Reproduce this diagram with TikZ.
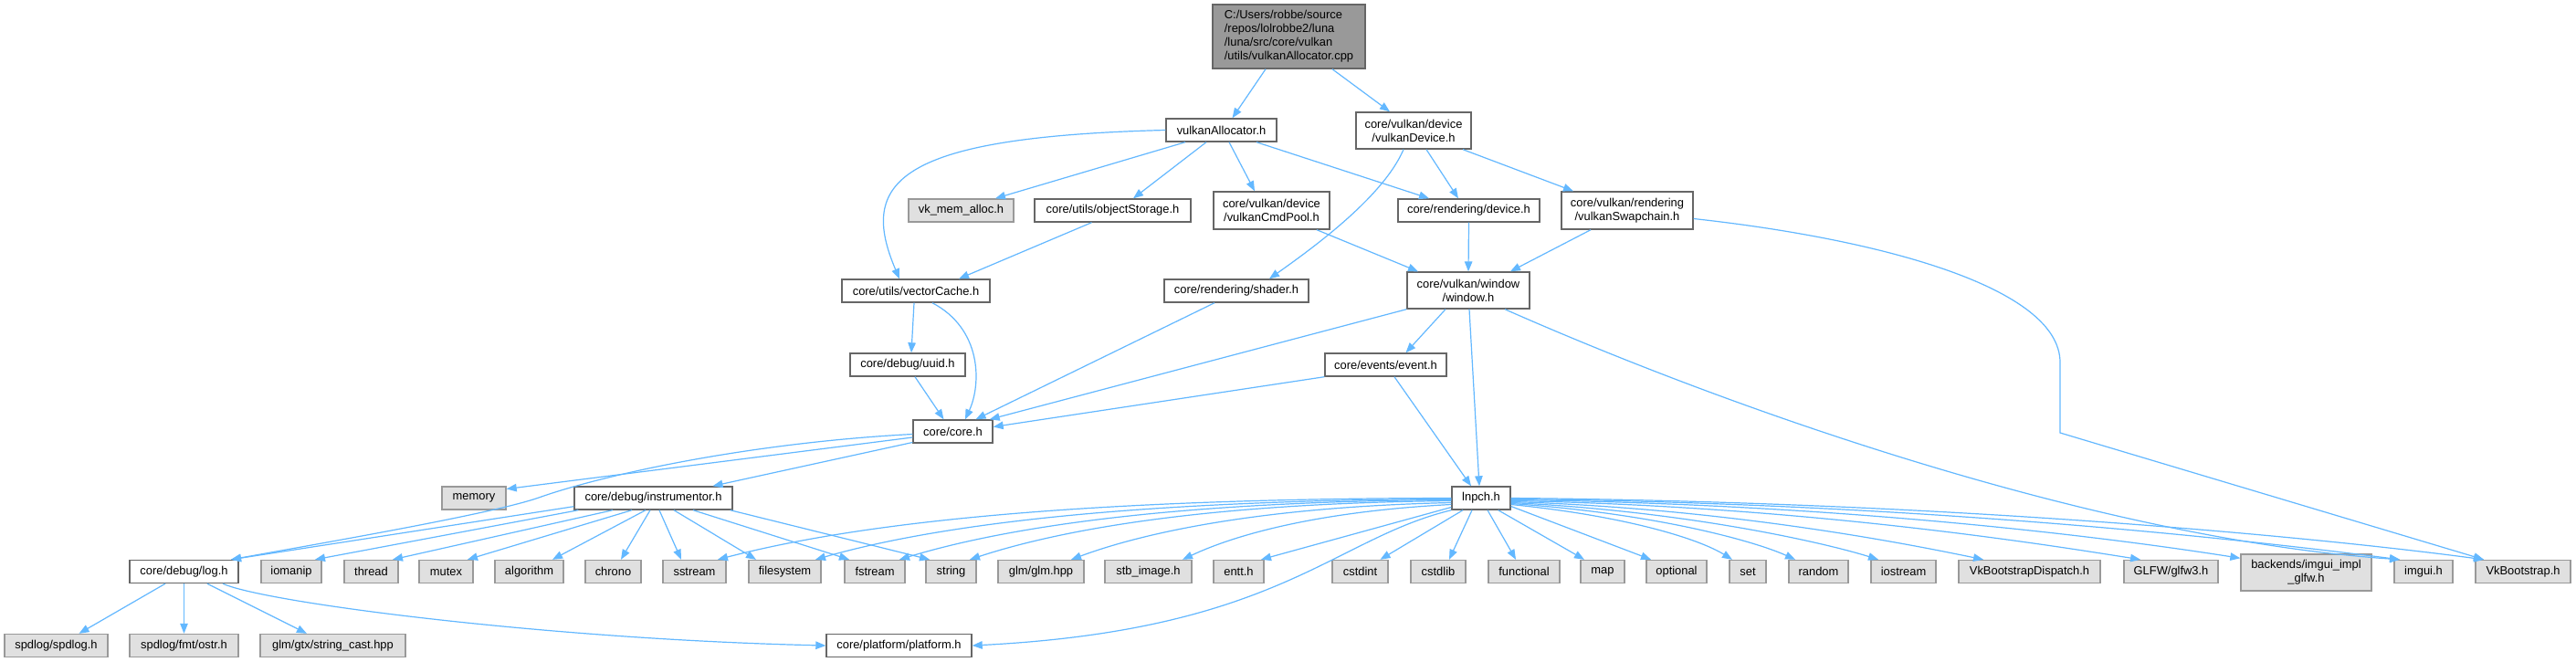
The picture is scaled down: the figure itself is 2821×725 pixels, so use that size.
\documentclass[tikz,border=0pt]{standalone}
\usepackage{fontspec}
\setmainfont{Liberation Sans}
\usepackage{tikz}
\usetikzlibrary{arrows.meta}
\definecolor{dg-edge}{HTML}{63B8FF}
\definecolor{dg-line}{HTML}{666666}
\definecolor{dg-sysline}{HTML}{999999}
\definecolor{dg-sysfill}{HTML}{E0E0E0}
\definecolor{dg-root}{HTML}{999999}
\tikzset{
  file/.style={draw=dg-line, fill=white, line width=1.4pt, minimum height=25, inner sep=0pt,
    font=\fontsize{12.9}{15}\selectfont, align=center},
  sys/.style={file, draw=dg-sysline, fill=dg-sysfill},
  root/.style={file, fill=dg-root, align=left},
  dep/.style={draw=dg-edge, line width=1.2pt, -{Triangle[length=11pt,width=8.5pt]}}
}

\begin{document}
\begin{tikzpicture}[x=1pt, y=1pt]

    \useasboundingbox[fill=white] (0,0) rectangle (2821,-725);

    % Source file and its direct includes
    \node[root, minimum width=167, minimum height=70] (main) at (1411.5,-40) {C:/Users/robbe/source\\/repos/lolrobbe2/luna\\/luna/src/core/vulkan\\/utils/vulkanAllocator.cpp};
    \node[file, minimum width=121] (valloch) at (1337.5,-142.5) {vulkanAllocator.h};
    \node[file, minimum width=126, minimum height=40] (vdevice) at (1548,-143) {core/vulkan/device\\/vulkanDevice.h};

    % Second level
    \node[sys, minimum width=115] (vkmem) at (1052.5,-230.5) {vk\_mem\_alloc.h};
    \node[file, minimum width=171] (objstore) at (1218.5,-230.5) {core/utils/objectStorage.h};
    \node[file, minimum width=127, minimum height=41] (cmdpool) at (1392.5,-230.5) {core/vulkan/device\\/vulkanCmdPool.h};
    \node[file, minimum width=155] (rdevice) at (1608.5,-230.5) {core/rendering/device.h};
    \node[file, minimum width=144, minimum height=41] (swapchain) at (1782,-230.5) {core/vulkan/rendering\\/vulkanSwapchain.h};

    \node[file, minimum width=162] (vcache) at (1003,-318.5) {core/utils/vectorCache.h};
    \node[file, minimum width=158] (shader) at (1354,-318.5) {core/rendering/shader.h};
    \node[file, minimum width=134, minimum height=40] (window) at (1608,-318) {core/vulkan/window\\/window.h};

    \node[file, minimum width=126] (uuid) at (994,-399.5) {core/debug/uuid.h};
    \node[file, minimum width=133] (event) at (1517.5,-399.5) {core/events/event.h};

    \node[file, minimum width=87] (core) at (1043.5,-472.5) {core/core.h};

    \node[sys, minimum width=70] (memory) at (519,-545.5) {memory};
    \node[file, minimum width=173] (instr) at (715.5,-545.5) {core/debug/instrumentor.h};
    \node[file, minimum width=64] (lnpch) at (1622,-545.5) {lnpch.h};

    % Row of headers
    \node[file, minimum width=119] (logh) at (201.5,-626) {core/debug/log.h};
    \node[sys, minimum width=66] (iomanip) at (319,-626) {iomanip};
    \node[sys, minimum width=59] (thread) at (406.5,-626) {thread};
    \node[sys, minimum width=59] (mutex) at (488.5,-626) {mutex};
    \node[sys, minimum width=75] (algorithm) at (579.5,-626) {algorithm};
    \node[sys, minimum width=61] (chrono) at (671.5,-626) {chrono};
    \node[sys, minimum width=69] (sstream) at (760.5,-626) {sstream};
    \node[sys, minimum width=79] (filesystem) at (859.5,-626) {filesystem};
    \node[sys, minimum width=66] (fstream) at (958,-626) {fstream};
    \node[sys, minimum width=55] (string) at (1041.5,-626) {string};
    \node[sys, minimum width=94] (glm) at (1140,-626) {glm/glm.hpp};
    \node[sys, minimum width=95] (stb) at (1257.5,-626) {stb\_image.h};
    \node[sys, minimum width=55] (entt) at (1356.5,-626) {entt.h};
    \node[sys, minimum width=61] (cstdint) at (1489.5,-626) {cstdint};
    \node[sys, minimum width=60] (cstdlib) at (1575,-626) {cstdlib};
    \node[sys, minimum width=78] (functional) at (1669,-626) {functional};
    \node[sys, minimum width=48] (map) at (1755,-626) {map};
    \node[sys, minimum width=66] (optional) at (1836,-626) {optional};
    \node[sys, minimum width=40] (set) at (1914,-626) {set};
    \node[sys, minimum width=65] (random) at (1991.5,-626) {random};
    \node[sys, minimum width=71] (iostream) at (2084.5,-626) {iostream};
    \node[sys, minimum width=155] (vkbd) at (2222.5,-626) {VkBootstrapDispatch.h};
    \node[sys, minimum width=103] (glfw) at (2377.5,-626) {GLFW/glfw3.h};
    \node[sys, minimum width=143, minimum height=40] (imguiimpl) at (2525.5,-627) {backends/imgui\_impl\\\_glfw.h};
    \node[sys, minimum width=64] (imgui) at (2654,-626) {imgui.h};
    \node[sys, minimum width=104] (vkboot) at (2763,-626) {VkBootstrap.h};

    % Bottom row
    \node[sys, minimum width=113] (spdlog) at (61.5,-707) {spdlog/spdlog.h};
    \node[sys, minimum width=119] (ostr) at (201.5,-707) {spdlog/fmt/ostr.h};
    \node[sys, minimum width=159] (strcast) at (364.5,-707) {glm/gtx/string\_cast.hpp};
    \node[file, minimum width=159] (platform) at (984.5,-707) {core/platform/platform.h};

    % Bend points of the routed edges
    \coordinate (swapbend) at (2256,-397);
    \coordinate (swapdrop) at (2256,-474);
    \coordinate (corebend) at (590,-545);

    % Edges from the upper part
    \draw[dep] ([xshift=-25.5]main.south) -- ([xshift=12]valloch.north);
    \draw[dep] ([xshift=47.5]main.south) -- ([xshift=-26]vdevice.north);

    \draw[dep] (valloch.west) .. controls (980,-150) and (940,-200) .. ([xshift=-18]vcache.north);
    \draw[dep] ([xshift=-39.5]valloch.south) -- ([xshift=37.5]vkmem.north);
    \draw[dep] ([xshift=-16.5]valloch.south) -- ([xshift=22.5]objstore.north);
    \draw[dep] ([xshift=8.5]valloch.south) -- ([xshift=-18.5]cmdpool.north);
    \draw[dep] ([xshift=38.5]valloch.south) -- ([xshift=-43.5]rdevice.north);

    \draw[dep] ([xshift=-11]vdevice.south) .. controls (1515,-215) and (1440,-270) .. ([xshift=36]shader.north);
    \draw[dep] ([xshift=14]vdevice.south) -- ([xshift=-11.5]rdevice.north);
    \draw[dep] ([xshift=54]vdevice.south) -- ([xshift=-59]swapchain.north);

    \draw[dep] ([xshift=-23]objstore.south) -- ([xshift=47]vcache.north);
    \draw[dep] ([xshift=49.5]cmdpool.south) -- ([xshift=-55]window.north);
    \draw[dep] (rdevice.south) -- (window.north);
    \draw[dep] ([xshift=-40]swapchain.south) -- ([xshift=46]window.north);
    \draw[dep] ([yshift=-9]swapchain.east) .. controls (2060,-262) and (2256,-315) .. (swapbend) -- (swapdrop) -- ([xshift=-43]vkboot.north);

    \draw[dep] ([xshift=-2]vcache.south) -- ([xshift=4]uuid.north);
    \draw[dep] ([xshift=18]vcache.south) .. controls (1075,-360) and (1075,-420) .. ([xshift=13.5]core.north);
    \draw[dep] ([xshift=-24]shader.south) -- ([xshift=25]core.north);
    \draw[dep] (window.south west) -- ([xshift=-4]core.north east);
    \draw[dep] ([xshift=-25]window.south) -- ([xshift=22]event.north);
    \draw[dep] ([xshift=1]window.south) -- ([xshift=-2]lnpch.north);
    \draw[dep] ([xshift=40]window.south) .. controls (1900,-450) and (2300,-590) .. ([xshift=-26]imgui.north);
    \draw[dep] ([xshift=8]uuid.south) -- ([xshift=-10]core.north);
    \draw[dep] (event.south west) -- ([yshift=5]core.east);
    \draw[dep] ([xshift=9.5]event.south) -- ([xshift=-11]lnpch.north);

    % core/core.h
    \draw[dep] ([yshift=-3]core.west) .. controls (820,-485) and (660,-520) .. (corebend) .. controls (541,-562) and (380,-590) .. ([xshift=51.5]logh.north);
    \draw[dep] ([yshift=-6.5]core.west) -- ([yshift=10]memory.east);
    \draw[dep] ([yshift=-12]core.west) -- ([xshift=65]instr.north);

    % core/debug/instrumentor.h
    \draw[dep] ([yshift=4]instr.south west) -- ([xshift=51.5]logh.north);
    \draw[dep] ([xshift=5]instr.south west) -- ([xshift=26]iomanip.north);
    \draw[dep] ([xshift=-44.5]instr.south) -- ([xshift=23.5]thread.north);
    \draw[dep] ([xshift=-23.5]instr.south) -- ([xshift=23.5]mutex.north);
    \draw[dep] ([xshift=-8.5]instr.south) -- ([xshift=25.5]algorithm.north);
    \draw[dep] ([xshift=-3.5]instr.south) -- ([xshift=8.5]chrono.north);
    \draw[dep] ([xshift=6.5]instr.south) -- ([xshift=-14.5]sstream.north);
    \draw[dep] ([xshift=22.5]instr.south) -- ([xshift=-31.5]filesystem.north);
    \draw[dep] ([xshift=43.5]instr.south) -- ([xshift=-28]fstream.north);
    \draw[dep] ([xshift=-3]instr.south east) -- ([xshift=-23.5]string.north);

    % lnpch.h, to the left
    \draw[dep] (lnpch.west) .. controls (1200,-546) and (950,-570) .. ([xshift=25.5]sstream.north);
    \draw[dep] ([yshift=-1]lnpch.west) .. controls (1248,-548) and (1032,-573) .. ([xshift=33.5]filesystem.north);
    \draw[dep] ([yshift=-2]lnpch.west) .. controls (1294,-549) and (1106,-576) .. ([xshift=27]fstream.north);
    \draw[dep] ([yshift=-3]lnpch.west) .. controls (1331,-551) and (1168,-578) .. ([xshift=20.5]string.north);
    \draw[dep] ([yshift=-5]lnpch.west) .. controls (1386,-555) and (1256,-582) .. ([xshift=33]glm.north);
    \draw[dep] ([yshift=-7]lnpch.west) .. controls (1445,-560) and (1354,-585) .. ([xshift=37.5]stb.north);
    \draw[dep] ([yshift=-10]lnpch.west) -- ([xshift=24.5]entt.north);
    \draw[dep] (lnpch.south west) .. controls (1460,-590) and (1400,-690) .. (platform.east);

    % lnpch.h, downwards and to the right
    \draw[dep] ([xshift=-20]lnpch.south) -- ([xshift=22]cstdint.north);
    \draw[dep] ([xshift=-10]lnpch.south) -- ([xshift=12]cstdlib.north);
    \draw[dep] ([xshift=7]lnpch.south) -- ([xshift=-9]functional.north);
    \draw[dep] ([xshift=-14]lnpch.south east) -- ([xshift=-20]map.north);
    \draw[dep] ([yshift=-9]lnpch.east) -- ([xshift=-28]optional.north);
    \draw[dep] ([yshift=-7]lnpch.east) .. controls (1780,-565) and (1860,-590) .. ([xshift=-17]set.north);
    \draw[dep] ([yshift=-6]lnpch.east) .. controls (1810,-562) and (1920,-592) .. ([xshift=-25.5]random.north);
    \draw[dep] ([yshift=-5]lnpch.east) .. controls (1850,-560) and (2000,-595) .. ([xshift=-27.5]iostream.north);
    \draw[dep] ([yshift=-4]lnpch.east) .. controls (1900,-557) and (2100,-598) .. ([xshift=-50.5]vkbd.north);
    \draw[dep] ([yshift=-3]lnpch.east) .. controls (1980,-554) and (2250,-598) .. ([xshift=-33.5]glfw.north);
    \draw[dep] ([yshift=-2]lnpch.east) .. controls (2050,-552) and (2350,-595) .. ([yshift=-5]imguiimpl.north west);
    \draw[dep] ([yshift=-1]lnpch.east) .. controls (2100,-551) and (2450,-590) .. ([xshift=-26]imgui.north);
    \draw[dep] (lnpch.east) .. controls (2150,-550) and (2550,-590) .. ([xshift=-43]vkboot.north);

    % core/debug/log.h
    \draw[dep] ([xshift=-20.5]logh.south) -- ([xshift=25]spdlog.north);
    \draw[dep] (logh.south) -- (ostr.north);
    \draw[dep] ([xshift=25.5]logh.south) -- ([xshift=-28.5]strcast.north);
    \draw[dep] ([xshift=42.5]logh.south) .. controls (290,-660) and (600,-700) .. (platform.west);

\end{tikzpicture}
\end{document}
